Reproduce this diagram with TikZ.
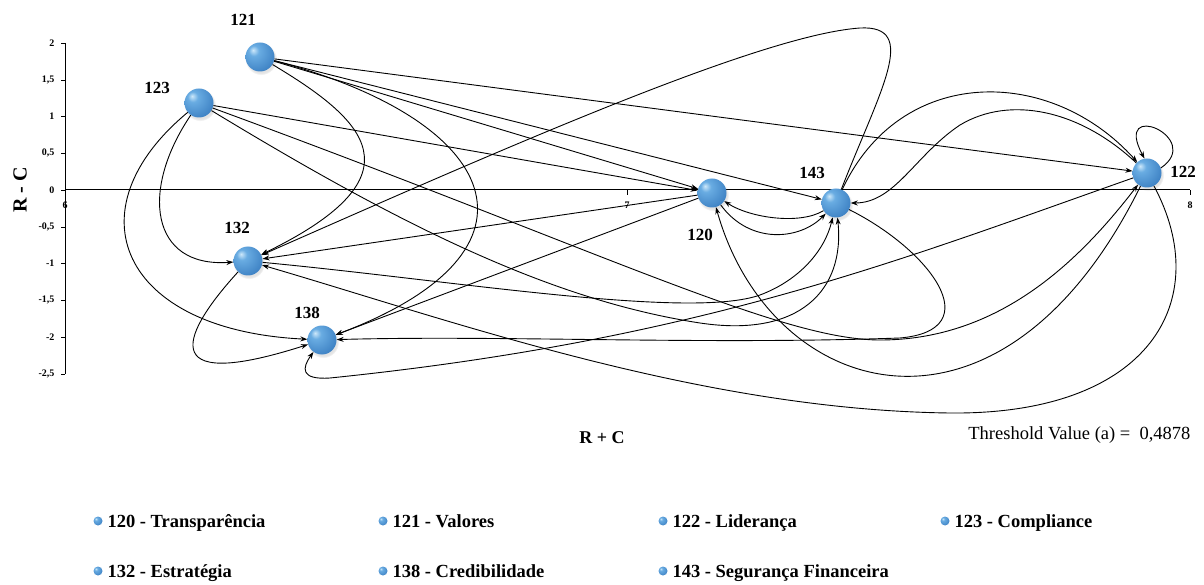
\documentclass[tikz,border=0pt]{standalone}
\usepackage{fontspec}
\setmainfont{Liberation Serif}
\usetikzlibrary{arrows.meta,shadows}
\definecolor{ballhl}{RGB}{205,232,250}
\definecolor{ballA}{RGB}{105,172,226}
\definecolor{ballB}{RGB}{62,130,196}
\definecolor{ballC}{RGB}{38,88,150}
\pgfdeclareradialshading{sphere}{\pgfqpoint{-12bp}{12bp}}{%
  color(0bp)=(ballhl); color(9bp)=(ballA); color(34bp)=(ballB);
  color(56bp)=(ballC); color(80bp)=(ballC)}
\begin{document}
\begin{tikzpicture}[x=1pt,y=-1pt,
  ball/.style={circle,minimum size=29pt,inner sep=0pt,shading=sphere,
    circular drop shadow={shadow xshift=1pt,shadow yshift=-2pt,opacity=0.22}},
  dot/.style={circle,minimum size=9pt,inner sep=0pt,shading=sphere},
  lbl/.style={font=\fontsize{17}{17}\selectfont\bfseries},
  tick/.style={font=\fontsize{10}{10}\selectfont\bfseries},
  legend/.style={anchor=base west,font=\fontsize{18.5}{18.5}\selectfont\bfseries},
  edge/.style={line width=0.9pt,-{Stealth[length=7pt,width=5pt]}},
  axis/.style={line width=1pt}]
\useasboundingbox (0,0) rectangle (1204,585);

% axes
\draw[axis] (65,43) -- (65,374);
\draw[axis] (65,190) -- (1190,190);
\foreach \y/\t in {43/2,80/{1,5},116.5/1,153/{0,5},190/0,227/{-0,5},263.5/-1,300/{-1,5},337/-2,374/{-2,5}}
  {\draw[line width=0.6pt] (61,\y) -- (65,\y); \node[tick,anchor=east] at (58,\y) {\t};}
\foreach \x/\t in {627/7,1190/8}
  {\draw[line width=0.6pt] (\x,190) -- (\x,195); \node[tick] at (\x,205) {\t};}
\node[tick] at (65,205) {6};
\node[font=\fontsize{20}{20}\selectfont\bfseries,rotate=90] (ylab) at (20,190) {R - C};
\node[font=\fontsize{18}{18}\selectfont\bfseries] (xlab) at (602,438) {R + C};
\node[anchor=east,font=\fontsize{18.5}{18.5}\selectfont] (thr) at (1194,435) {Threshold Value (a) =\ \ 0,4878};

% factors
\node[ball] (n121) at (260,57) {};
\node[ball] (n123) at (199,103) {};
\node[ball] (n132) at (248,261) {};
\node[ball] (n138) at (322,340) {};
\node[ball] (n120) at (712,193) {};
\node[ball] (n143) at (836,203) {};
\node[ball] (n122) at (1147,173) {};
\node[lbl] (l121) at (243,20) {121};
\node[lbl] (l123) at (157,88) {123};
\node[lbl] (l132) at (237,228) {132};
\node[lbl] (l138) at (307,313) {138};
\node[lbl] (l120) at (700,235) {120};
\node[lbl] (l143) at (812,173) {143};
\node[lbl] (l122) at (1183,172) {122};

% relations
\draw[edge] (n121) -- (n122);
\draw[edge] (n121) -- (n120);
\draw[edge] (n121) -- (n143);
\draw[edge] (n121) .. controls (365,120) and (425,175) .. (n132);
\draw[edge] (n121) .. controls (500,120) and (560,250) .. (n138);
\draw[edge] (n123) -- (n120);
\draw[edge] (n123) .. controls (140,190) and (150,268) .. (n132);
\draw[edge] (n123) .. controls (70,210) and (120,330) .. (n138);
\draw[edge] (n123) .. controls (400,225) and (550,300) .. (700,323) .. controls (800,338) and (845,290) .. (n143);
\draw[edge] (n123) .. controls (600,250) and (780,340) .. (880,340) .. controls (1000,340) and (1080,260) .. (n122);
\draw[edge] (n132) .. controls (450,280) and (690,320) .. (760,295) .. controls (800,280) and (825,250) .. (n143);
\draw[edge] (n120) -- (n132);
\draw[edge] (n120) -- (n138);
\draw[edge] (n120) .. controls (750,245) and (800,240) .. (n143);
\draw[edge] (n143) .. controls (800,225) and (750,218) .. (n120);
\draw[edge] (n122) .. controls (1000,470) and (770,400) .. (n120);
\draw[edge] (n143) .. controls (900,65) and (1050,65) .. (n122);
\draw[edge] (n122) .. controls (1080,110) and (1010,95) .. (960,125) .. controls (915,155) and (895,203) .. (n143);
\draw[edge] (n122.20) .. controls (1205,138) and (1112,98) .. (n122.100);
\draw[edge] (n143) .. controls (880,90) and (920,25) .. (860,28) .. controls (760,35) and (500,150) .. (n132);
\draw[edge] (n143) .. controls (930,250) and (990,330) .. (900,338) .. controls (700,345) and (500,335) .. (n138);
\draw[edge] (n122) .. controls (1215,300) and (1150,415) .. (950,413) .. controls (700,410) and (450,320) .. (n132);
\draw[edge] (n122) .. controls (900,260) and (700,340) .. (330,378) .. controls (300,380) and (302,368) .. (n138);
\draw[edge] (n132) .. controls (185,330) and (150,395) .. (n138);

% legend
\foreach \x/\y/\t [count=\i] in {98/521/{120 - Transparência},383/521/{121 - Valores},663/521/{122 - Liderança},945/521/{123 - Compliance},98/571/{132 - Estratégia},383/571/{138 - Credibilidade},663/571/{143 - Segurança Financeira}}
  {\node[dot] (d\i) at (\x,\y) {}; \node[legend] (t\i) at (\x+6,\y+6) {\t};}
\end{tikzpicture}
\end{document}
